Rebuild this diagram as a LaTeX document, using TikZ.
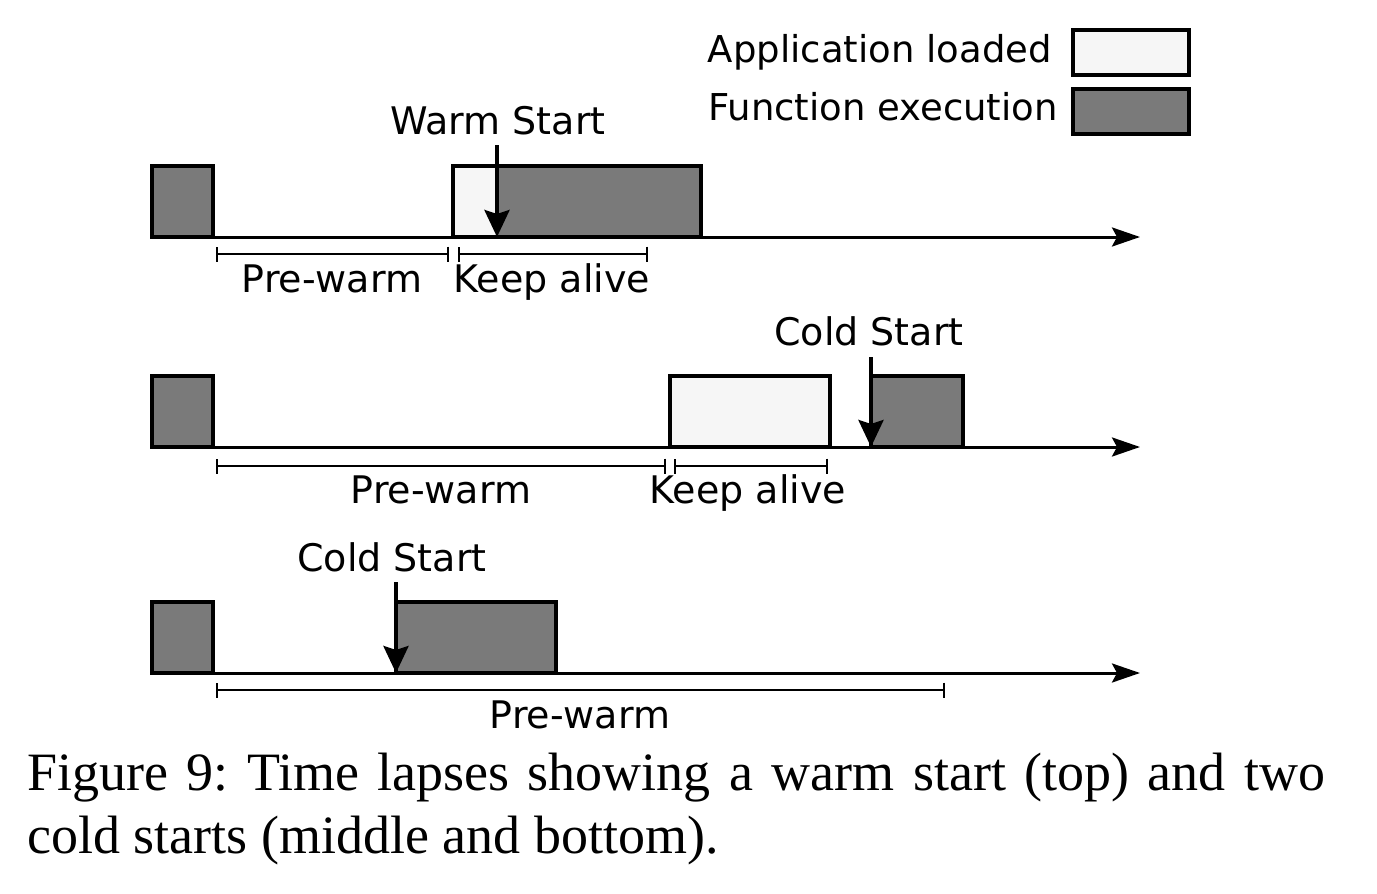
\documentclass[tikz,border=0pt]{standalone}
\usepackage{fontspec}
\setmainfont{DejaVu Sans}
\newfontfamily\capfont{Liberation Serif}
\usetikzlibrary{arrows.meta}
\definecolor{darkfill}{HTML}{7A7A7A}
\definecolor{lightfill}{HTML}{F6F6F6}
\begin{document}
\frenchspacing
\begin{tikzpicture}[x=1pt,y=-1pt,
 lbl/.style={font=\fontsize{38}{41}\selectfont, inner sep=0pt, anchor=base},
 leglbl/.style={font=\fontsize{37}{40}\selectfont, inner sep=0pt, anchor=base east},
 boxline/.style={draw=black, line width=3.5pt},
 fbox/.style={rectangle, boxline, fill=darkfill, inner sep=0pt, outer sep=0pt, anchor=south west},
 lbox/.style={fbox, fill=lightfill},
 axisline/.style={line width=3pt, -{Stealth[length=28pt,width=19pt,inset=5pt]}},
 eventarrow/.style={line width=4pt, -{Stealth[length=27pt,width=25pt,inset=4pt]}},
 span/.style={line width=1.8pt, {Bar[width=15pt,line width=1.8pt]}-{Bar[width=15pt,line width=1.8pt]}},
 capt/.style={font=\capfont\fontsize{54}{63}\selectfont, inner sep=0pt, anchor=base west}]
\useasboundingbox (0,0) rectangle (1377,894);
\fill[white] (0,0) rectangle (1377,894);

% ---------- legend ----------
\node[leglbl] (legA) at (1052,62) {Application loaded};
\node[leglbl] (legF) at (1058,120) {Function execution};
\node[lbox, minimum width=116pt, minimum height=45pt] (legAbox) at (1073,75) {};
\node[fbox, minimum width=116pt, minimum height=45pt] (legFbox) at (1073,134) {};

% ---------- row 1 ----------
\coordinate (a1s) at (152,237);
\coordinate (a1e) at (1140,237);
\draw[axisline] (a1s) -- (a1e);
\node[fbox, minimum width=61pt, minimum height=71pt] (r1b1) at (152,237) {};
\node[lbox, minimum width=248pt, minimum height=71pt] (r1b2) at (453,237) {};
\fill[darkfill] (498,168) rectangle (699,235);
\draw[boxline] (r1b2.south west) rectangle (r1b2.north east);
\coordinate (w1s) at (497,145);
\coordinate (w1e) at (497,237);
\draw[eventarrow] (w1s) -- (w1e);
\node[lbl] (warm) at (498,134) {Warm Start};
\coordinate (p1s) at (216,254);
\coordinate (p1e) at (449,254);
\coordinate (k1s) at (458,254);
\coordinate (k1e) at (648,254);
\draw[span] (p1s) -- (p1e);
\draw[span] (k1s) -- (k1e);
\node[lbl] (p1l) at (332,292) {Pre-warm};
\node[lbl] (k1l) at (552,292) {Keep alive};

% ---------- row 2 ----------
\coordinate (a2s) at (152,447);
\coordinate (a2e) at (1140,447);
\draw[axisline] (a2s) -- (a2e);
\node[fbox, minimum width=61pt, minimum height=71pt] (r2b1) at (152,447) {};
\node[lbox, minimum width=160pt, minimum height=71pt] (r2b2) at (670,447) {};
\node[fbox, minimum width=92pt, minimum height=71pt] (r2b3) at (871,447) {};
\coordinate (c2s) at (871,357);
\coordinate (c2e) at (871,447);
\draw[eventarrow] (c2s) -- (c2e);
\node[lbl] (cold2) at (869,345) {Cold Start};
\coordinate (p2s) at (216,466);
\coordinate (p2e) at (666,466);
\coordinate (k2s) at (674,466);
\coordinate (k2e) at (828,466);
\draw[span] (p2s) -- (p2e);
\draw[span] (k2s) -- (k2e);
\node[lbl] (p2l) at (441,503) {Pre-warm};
\node[lbl] (k2l) at (748,503) {Keep alive};

% ---------- row 3 ----------
\coordinate (a3s) at (152,673);
\coordinate (a3e) at (1140,673);
\draw[axisline] (a3s) -- (a3e);
\node[fbox, minimum width=61pt, minimum height=71pt] (r3b1) at (152,673) {};
\node[fbox, minimum width=160pt, minimum height=71pt] (r3b2) at (396,673) {};
\coordinate (c3s) at (396,582);
\coordinate (c3e) at (396,673);
\draw[eventarrow] (c3s) -- (c3e);
\node[lbl] (cold3) at (392,571) {Cold Start};
\coordinate (p3s) at (216,690);
\coordinate (p3e) at (945,690);
\draw[span] (p3s) -- (p3e);
\node[lbl] (p3l) at (580,728) {Pre-warm};

% ---------- caption ----------
\node[capt] (cap1) at (27,790) {\makebox[1298pt][s]{Figure 9: Time lapses showing a warm start (top) and two}};
\node[capt] (cap2) at (27,853) {cold starts (middle and bottom).};
\end{tikzpicture}
\end{document}
